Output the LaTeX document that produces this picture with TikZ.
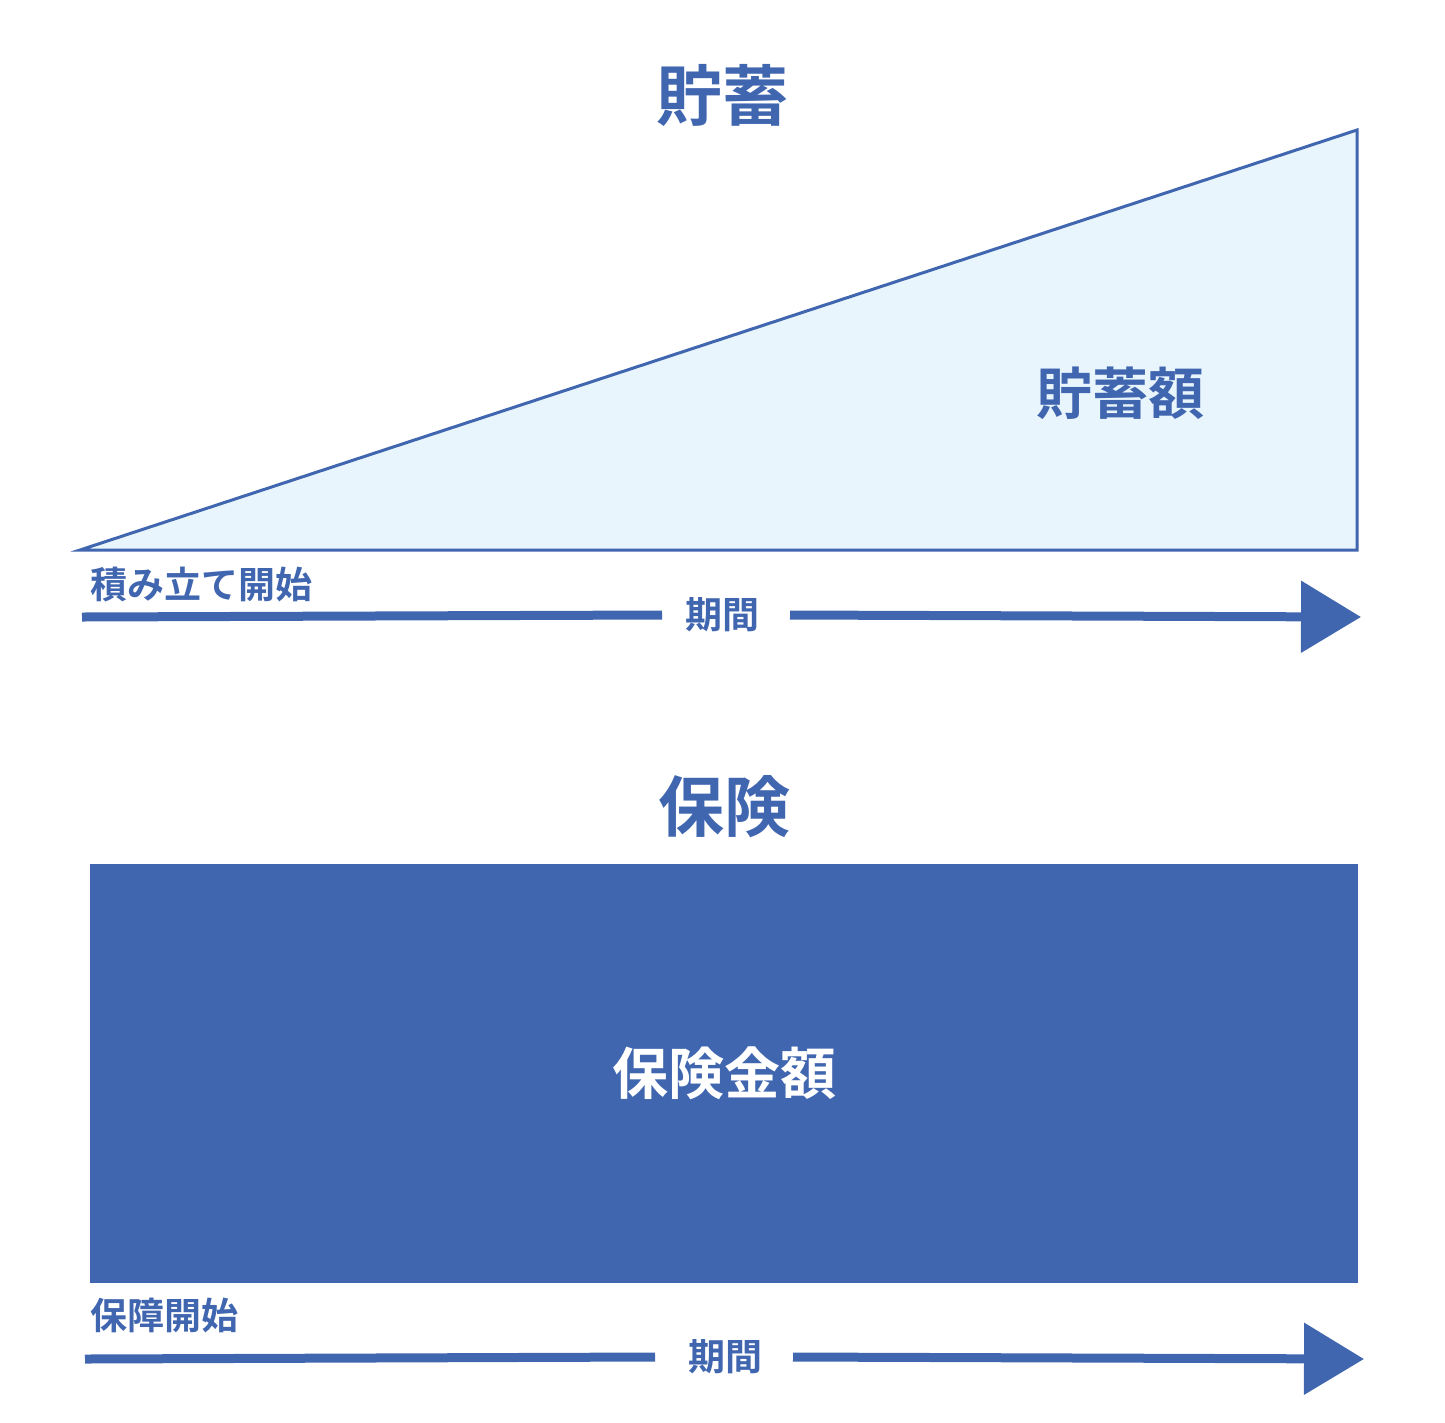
\documentclass[tikz,border=0pt]{standalone}
\usepackage{fontspec}
\newfontfamily\jpbold{Noto Sans CJK JP Bold}
\usetikzlibrary{arrows.meta}
\definecolor{mainblue}{HTML}{4166B0}
\definecolor{lightblue}{HTML}{E8F5FD}
\tikzset{
    title/.style={font=\jpbold\fontsize{66pt}{70pt}\selectfont, text=mainblue},
    big/.style={font=\jpbold\fontsize{56pt}{60pt}\selectfont},
    small/.style={font=\jpbold\fontsize{37pt}{40pt}\selectfont, text=mainblue},
    timeline/.style={mainblue, line width=9pt},
    timearrow/.style={timeline, -{Triangle[length=60pt,width=70pt]}},
}
\begin{document}
\begin{tikzpicture}[x=1pt, y=-1pt]
    \useasboundingbox (0,0) rectangle (1445,1422);

    % savings
    \node [title] (savetitle) at (722,95) {貯蓄};
    \coordinate (t0) at (80,550);
    \coordinate (t1) at (1357,130);
    \coordinate (t2) at (1357,550);
    \filldraw [fill=lightblue, draw=mainblue, line width=3pt, line join=miter] (t0) -- (t1) -- (t2) -- cycle;
    \node [big, text=mainblue] (savelabel) at (1120,393) {貯蓄額};
    \node [small, anchor=west, inner sep=0pt] (savestart) at (90,585) {積み立て開始};
    \coordinate (s0) at (82,617);
    \coordinate (s1) at (1361,617);
    \node [small] (saveperiod) at (722,615) {期間};
    \draw [timeline] (s0) -- ([xshift=-60pt]saveperiod.center);
    \draw [timearrow] ([xshift=68pt]saveperiod.center) -- (s1);

    % insurance
    \node [title] (institle) at (724,807) {保険};
    \node [fill=mainblue, minimum width=1268pt, minimum height=419pt, inner sep=0pt] (insbox) at (724,1073.5) {};
    \node [big, text=white] (inslabel) at (insbox.center) {保険金額};
    \node [small, anchor=west, inner sep=0pt] (insstart) at (90,1315) {保障開始};
    \coordinate (i0) at (85,1359);
    \coordinate (i1) at (1364,1359);
    \node [small] (insperiod) at (725,1357) {期間};
    \draw [timeline] (i0) -- ([xshift=-70pt]insperiod.center);
    \draw [timearrow] ([xshift=68pt]insperiod.center) -- (i1);
\end{tikzpicture}
\end{document}
